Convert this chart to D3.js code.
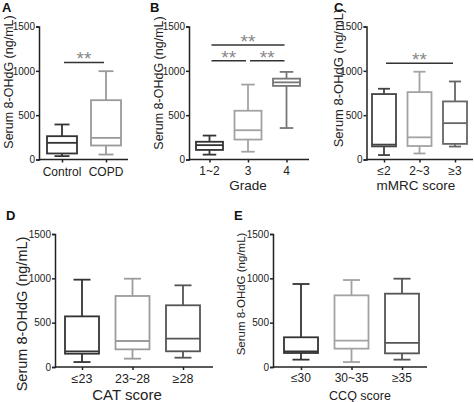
<!DOCTYPE html>
<html><head><meta charset="utf-8">
<script src="https://cdn.jsdelivr.net/npm/d3@7"></script>
<style>
body{margin:0;background:#fff;}
text{font-family:"Liberation Sans",Arial,sans-serif;}
</style></head>
<body><svg id="c" width="474" height="402"></svg>
<script>
// ---------- data ----------
const yTicks = [0, 500, 1000, 1500];
const yLabel = "Serum 8-OHdG (ng/mL)";

const catsA = ["Control", "COPD"];
const statsA = [[38, 68, 188, 263, 395], [56, 158, 244, 669, 996]]; // min,q1,med,q3,max
const sigA = [["Control", "COPD", 1095]];

const catsB = ["1~2", "3", "4"];
const statsB = [[55, 108, 162, 200, 270], [88, 225, 330, 550, 845], [355, 830, 870, 912, 988]];
const sigB = [["1~2", "4", 1290], ["1~2", "3", 1115], ["3", "4", 1115]];

const catsC = ["≤2", "2~3", "≥3"];
const statsC = [[50, 148, 168, 738, 798], [68, 152, 250, 760, 990], [146, 176, 410, 655, 880]];
const sigC = [["≤2", "≥3", 1085]];

const catsD = ["≤23", "23~28", "≥28"];
const statsD = [[56, 150, 177, 571, 985], [94, 199, 293, 801, 996], [105, 177, 320, 696, 921]];

const catsE = ["≤30", "30~35", "≥35"];
const statsE = [[83, 158, 177, 335, 936], [56, 207, 297, 808, 981], [83, 154, 271, 827, 996]];

// ---------- layout ----------
const svg = d3.select("#c");
const dark = "#333", light = "#a3a3a3", mid = "#666";

const panels = [
  {letter:"A", lx:2, ly:12, cats:catsA, stats:statsA, sig:sigA, title:null,
   axisX:39, axisEnd:128, c0:62, c1:106, y0:159.5, y1:26.5, bw:30,
   colors:[dark, "#9a9a9a"], ylx:9, yly:82, ylfs:12.5, tfs:12, tby:176, titfs:13.5, titY:190},
  {letter:"B", lx:150, ly:12, cats:catsB, stats:statsB, sig:sigB, title:"Grade",
   axisX:189, axisEnd:309, c0:209.5, c1:286.5, y0:159.5, y1:26.5, bw:27,
   colors:[dark, light, "#777"], ylx:159, yly:83, ylfs:12.5, tfs:12, tby:175, titfs:13.5, titY:190, titX:248},
  {letter:"C", lx:334, ly:12, cats:catsC, stats:statsC, sig:sigC, title:"mMRC score",
   axisX:366.5, axisEnd:473, c0:384, c1:455, y0:159.5, y1:26.5, bw:24,
   colors:["#444", light, mid], ylx:338, yly:78, ylfs:13, tfs:12, tby:175, titfs:13.5, titY:190, titX:416},
  {letter:"D", lx:6, ly:220, cats:catsD, stats:statsD, sig:[], title:"CAT score",
   axisX:55, axisEnd:213, c0:82, c1:183, y0:367, y1:234, bw:34,
   colors:[dark, "#9c9c9c", "#555"], ylx:22, yly:314, ylfs:14.5, tfs:12.5, tby:383, titfs:15, titY:400, titX:127},
  {letter:"E", lx:234, ly:220, cats:catsE, stats:statsE, sig:[], title:"CCQ score",
   axisX:273, axisEnd:427, c0:301, c1:402, y0:367, y1:234, bw:34,
   colors:[dark, light, "#555"], ylx:241, yly:294, ylfs:11.5, tfs:12, tby:382, titfs:12.5, titY:400, titX:360}
];

panels.forEach(p => {
  const g = svg.append("g");
  const y = d3.scaleLinear().domain([0, 1500]).range([p.y0, p.y1]);
  const x = d3.scalePoint().domain(p.cats).range([p.c0, p.c1]);

  // panel letter
  g.append("text").attr("x", p.lx).attr("y", p.ly).attr("font-size", 13)
    .attr("font-weight", "bold").attr("fill", "#111").text(p.letter);

  // y axis
  const ya = g.append("g").attr("transform", `translate(${p.axisX},0)`)
    .call(d3.axisLeft(y).tickValues(yTicks).tickFormat(d3.format("d")).tickSize(3).tickPadding(1));
  ya.select(".domain").attr("stroke", "#222").attr("stroke-width", 1.5);
  ya.selectAll(".tick line").attr("stroke", "#222").attr("stroke-width", 1.5);
  ya.selectAll(".tick text").attr("font-size", 10).attr("fill", "#222")
    .attr("font-family", "Liberation Sans, Arial, sans-serif");

  // x axis
  const xa = g.append("g").attr("transform", `translate(0,${p.y0})`)
    .call(d3.axisBottom(x).tickSize(3).tickPadding(2));
  xa.select(".domain").remove();
  xa.append("line").attr("x1", p.axisX).attr("x2", p.axisEnd).attr("y1", 0).attr("y2", 0)
    .attr("stroke", "#222").attr("stroke-width", 1.5);
  xa.selectAll(".tick line").attr("stroke", "#222").attr("stroke-width", 1.5);
  xa.selectAll(".tick text").remove();
  p.cats.forEach(c => {
    g.append("text").attr("x", x(c)).attr("y", p.tby).attr("text-anchor", "middle")
      .attr("font-size", p.tfs).attr("fill", "#222").text(c);
  });

  // y label
  g.append("text").attr("transform", `translate(${p.ylx},${p.yly}) rotate(-90)`)
    .attr("text-anchor", "middle").attr("dominant-baseline", "central")
    .attr("font-size", p.ylfs).attr("fill", "#222").text(yLabel);

  // x title
  if (p.title) {
    g.append("text").attr("x", p.titX).attr("y", p.titY).attr("text-anchor", "middle")
      .attr("font-size", p.titfs).attr("fill", "#222").text(p.title);
  }

  // boxes
  p.cats.forEach((c, i) => {
    const s = p.stats[i], cx = x(c), col = p.colors[i], hw = p.bw / 2, cap = p.bw / 4;
    const bg = g.append("g").attr("stroke", col).attr("stroke-width", 1.8).attr("fill", "none");
    bg.append("line").attr("x1", cx).attr("x2", cx).attr("y1", y(s[0])).attr("y2", y(s[1]));
    bg.append("line").attr("x1", cx).attr("x2", cx).attr("y1", y(s[3])).attr("y2", y(s[4]));
    bg.append("line").attr("x1", cx - cap).attr("x2", cx + cap).attr("y1", y(s[0])).attr("y2", y(s[0]));
    bg.append("line").attr("x1", cx - cap).attr("x2", cx + cap).attr("y1", y(s[4])).attr("y2", y(s[4]));
    bg.append("rect").attr("x", cx - hw).attr("width", p.bw)
      .attr("y", y(s[3])).attr("height", y(s[1]) - y(s[3]));
    bg.append("line").attr("x1", cx - hw).attr("x2", cx + hw).attr("y1", y(s[2])).attr("y2", y(s[2]));
  });

  // significance
  p.sig.forEach(([a, b, v]) => {
    const xa0 = x(a) + 2, xb0 = x(b) - 2, yy = y(v);
    g.append("line").attr("x1", xa0).attr("x2", xb0).attr("y1", yy).attr("y2", yy)
      .attr("stroke", "#333").attr("stroke-width", 1.5);
    g.append("text").attr("x", (xa0 + xb0) / 2).attr("y", yy + 3).attr("text-anchor", "middle")
      .attr("font-size", 19).attr("fill", "#888").text("**");
  });
});
</script></body></html>
